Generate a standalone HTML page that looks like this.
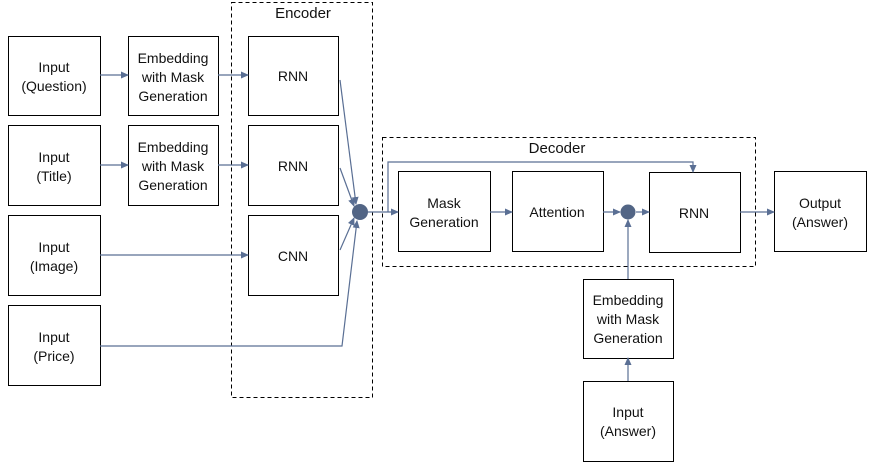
<!DOCTYPE html>
<html><head><style>body{margin:0;background:#fff}svg{display:block}text{font-family:"Liberation Sans",sans-serif;font-size:14px;fill:#111;text-anchor:middle}</style></head>
<body>
<svg width="873" height="470" viewBox="0 0 873 470">
<defs><marker id="a" markerWidth="8" markerHeight="8" refX="7" refY="4" orient="auto" markerUnits="userSpaceOnUse"><path d="M0,0.5 L8,4 L0,7.5 z" fill="#5a6f94"/></marker></defs>
<g fill="none" stroke="#000" stroke-width="1" stroke-dasharray="4,3">
<rect x="231.5" y="2.5" width="141" height="395"/>
<rect x="382.5" y="137.5" width="373" height="129"/>
</g>
<text x="303" y="18" style="font-size:15px">Encoder</text>
<text x="557" y="153" style="font-size:15px">Decoder</text>
<g fill="#fff" stroke="#000" stroke-width="1">
<rect x="8.5" y="36.5" width="92" height="79"/>
<rect x="8.5" y="125.5" width="92" height="80"/>
<rect x="8.5" y="215.5" width="92" height="80"/>
<rect x="8.5" y="305.5" width="92" height="80"/>
<rect x="128.5" y="36.5" width="90" height="79"/>
<rect x="128.5" y="125.5" width="90" height="80"/>
<rect x="248.5" y="36.5" width="90" height="79"/>
<rect x="248.5" y="125.5" width="90" height="80"/>
<rect x="248.5" y="215.5" width="90" height="80"/>
<rect x="398.5" y="171.5" width="92" height="80"/>
<rect x="512.5" y="171.5" width="91" height="80"/>
<rect x="649.5" y="172.5" width="91" height="80"/>
<rect x="774.5" y="171.5" width="92" height="80"/>
<rect x="583.5" y="279.5" width="90" height="79"/>
<rect x="583.5" y="381.5" width="90" height="80"/>
</g>
<g stroke="#5a6f94" stroke-width="1.2" fill="none" marker-end="url(#a)">
<path d="M100,75 H128"/><path d="M218,75 H248"/>
<path d="M100,165 H128"/><path d="M218,165 H248"/>
<path d="M100,255 H248"/>
<path d="M100,346 H342 L357,221"/>
<path d="M340,80 L356,204"/>
<path d="M340,168 L354,206"/>
<path d="M340,250 L354,218"/>
<path d="M368,212 H398"/>
<path d="M388,212 V162 H693 V172"/>
<path d="M490,212 H512"/>
<path d="M603,212 H620"/>
<path d="M636,212 H649"/>
<path d="M740,212 H774"/>
<path d="M628,279 V220"/>
<path d="M628,381 V358"/>
</g>
<circle cx="360" cy="212" r="8" fill="#526585"/>
<circle cx="628" cy="212" r="7.5" fill="#526585"/>
<text x="54" y="72">Input</text><text x="54" y="91">(Question)</text>
<text x="54" y="162">Input</text><text x="54" y="181">(Title)</text>
<text x="54" y="252">Input</text><text x="54" y="271">(Image)</text>
<text x="54" y="342">Input</text><text x="54" y="361">(Price)</text>
<text x="173" y="63">Embedding</text><text x="173" y="82">with Mask</text><text x="173" y="101">Generation</text>
<text x="173" y="152">Embedding</text><text x="173" y="171">with Mask</text><text x="173" y="190">Generation</text>
<text x="293" y="81">RNN</text><text x="293" y="171">RNN</text><text x="293" y="261">CNN</text>
<text x="444" y="208">Mask</text><text x="444" y="227">Generation</text>
<text x="557" y="217">Attention</text>
<text x="694" y="218">RNN</text>
<text x="820" y="208">Output</text><text x="820" y="227">(Answer)</text>
<text x="628" y="305">Embedding</text><text x="628" y="324">with Mask</text><text x="628" y="343">Generation</text>
<text x="628" y="417">Input</text><text x="628" y="436">(Answer)</text>
</svg>
</body></html>
